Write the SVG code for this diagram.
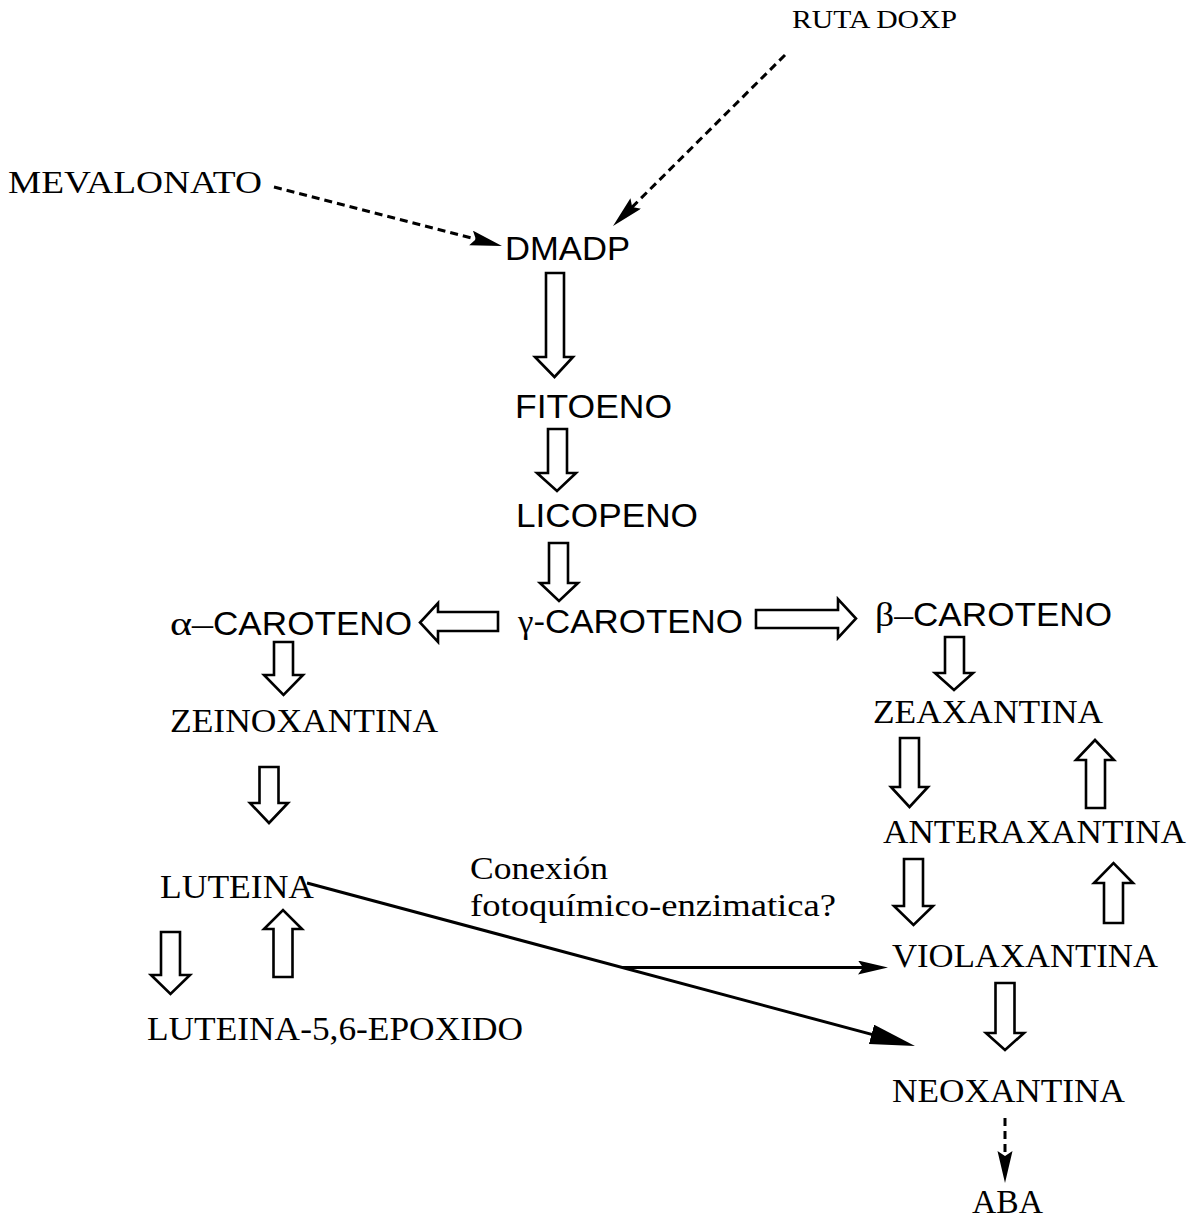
<svg xmlns="http://www.w3.org/2000/svg" width="1194" height="1220" viewBox="0 0 1194 1220">
<style>
.serif{font-family:"Liberation Serif","Times New Roman",serif;fill:#000}
.sans{font-family:"Liberation Sans",Arial,sans-serif;fill:#000}
.lbl{font-size:34px}
.slbl{font-size:33px}
.block{fill:#fff;stroke:#000;stroke-width:2.6;stroke-linejoin:miter}
.solid{fill:none;stroke:#000;stroke-width:3}
.dash{fill:none;stroke:#000;stroke-width:3;stroke-dasharray:8 5}
</style>
<defs>
<marker id="bigHead" markerUnits="userSpaceOnUse" markerWidth="46" markerHeight="22" refX="35" refY="10" orient="auto">
<path d="M0,0 L45,10 L0,20 Z" fill="#000"/>
</marker>
<marker id="smallHead" markerUnits="userSpaceOnUse" markerWidth="32" markerHeight="16" refX="20" refY="7" orient="auto">
<path d="M0,0 L30,7 L0,14 L5,7 Z" fill="#000"/>
</marker>
<marker id="dashHead" markerUnits="userSpaceOnUse" markerWidth="34" markerHeight="16" refX="14" refY="7.5" orient="auto">
<path d="M0,0 L32,7.5 L0,15 L5,7.5 Z" fill="#000"/>
</marker>
</defs>
<rect width="1194" height="1220" fill="#fff"/>

<g id="connectors">
<line class="dash" x1="274" y1="187" x2="484.6" y2="241.4" marker-end="url(#dashHead)"/>
<line class="dash" x1="785" y1="55" x2="625.8" y2="213.4" marker-end="url(#dashHead)"/>
<line class="dash" x1="1005" y1="1118" x2="1005" y2="1165" marker-end="url(#dashHead)"/>
<line class="solid" x1="307" y1="883" x2="905.3" y2="1043.4" marker-end="url(#bigHead)"/>
<line class="solid" x1="622" y1="967.5" x2="878" y2="967.5" marker-end="url(#smallHead)"/>
<path id="a-dmadp-fitoeno" class="block" d="M546,273 H564 V357 H573 L554.5,377 L535,357 H546 Z"/>
<path id="a-fitoeno-licopeno" class="block" d="M548,429 H567 V473 H576 L557,491 L537,473 H548 Z"/>
<path id="a-licopeno-gamma" class="block" d="M549,543 H568 V583 H578 L559,601 L540,583 H549 Z"/>
<path id="a-gamma-alpha" class="block" d="M498,612 V631 H438 V642 L420,622.5 L438,603 V612 Z"/>
<path id="a-gamma-beta" class="block" d="M756,610 H838 V599 L856,618.5 L838,638 V628 H756 Z"/>
<path id="a-alpha-zein" class="block" d="M274,642 H293 V675 H303 L283.5,695 L264,675 H274 Z"/>
<path id="a-zein-lut" class="block" d="M259.5,767 H278.5 V803 H288 L269,823 L250,803 H259.5 Z"/>
<path id="a-lut-epox" class="block" d="M161,932 H180 V975 H190 L170.5,994 L151,975 H161 Z"/>
<path id="a-epox-lut" class="block" d="M273.5,977 H292.5 V929 H302 L283,910 L264,929 H273.5 Z"/>
<path id="a-beta-zeax" class="block" d="M945,637 H964 V673 H973 L954,690 L935,673 H945 Z"/>
<path id="a-zeax-anter" class="block" d="M900,738 H919 V787 H928 L909.5,807 L891,787 H900 Z"/>
<path id="a-anter-zeax" class="block" d="M1086,808 H1105 V760 H1114 L1095,740 L1076,760 H1086 Z"/>
<path id="a-anter-viola" class="block" d="M904,859 H923 V906 H933 L913.5,925 L894,906 H904 Z"/>
<path id="a-viola-anter" class="block" d="M1104,923 H1123 V883 H1133 L1113.5,863 L1094,883 H1104 Z"/>
<path id="a-viola-neo" class="block" d="M995.5,983 H1014.5 V1033 H1024 L1005,1050 L986,1033 H995.5 Z"/>
</g>

<g id="n-doxp"><text class="serif" font-size="26" x="792" y="28" textLength="165" lengthAdjust="spacingAndGlyphs">RUTA DOXP</text></g>
<g id="n-mevalonato"><text class="serif" font-size="32" x="8" y="193" textLength="254" lengthAdjust="spacingAndGlyphs">MEVALONATO</text></g>
<g id="n-dmadp"><text class="sans slbl" x="505" y="260" textLength="125" lengthAdjust="spacingAndGlyphs">DMADP</text></g>
<g id="n-fitoeno"><text class="sans slbl" x="515" y="418" textLength="157" lengthAdjust="spacingAndGlyphs">FITOENO</text></g>
<g id="n-licopeno"><text class="sans slbl" x="516" y="527" textLength="182" lengthAdjust="spacingAndGlyphs">LICOPENO</text></g>
<g id="n-gamma"><text x="518" y="633" textLength="225" lengthAdjust="spacingAndGlyphs"><tspan class="serif" font-size="33">γ</tspan><tspan class="sans slbl">-CAROTENO</tspan></text></g>
<g id="n-alpha"><text x="170" y="635"><tspan class="serif" font-size="33" textLength="43" lengthAdjust="spacingAndGlyphs">α–</tspan><tspan class="sans slbl" textLength="199" lengthAdjust="spacingAndGlyphs">CAROTENO</tspan></text></g>
<g id="n-beta"><text x="875" y="626"><tspan class="serif" font-size="33" textLength="38" lengthAdjust="spacingAndGlyphs">β–</tspan><tspan class="sans slbl" textLength="199" lengthAdjust="spacingAndGlyphs">CAROTENO</tspan></text></g>
<g id="n-zeinox"><text class="serif lbl" x="170" y="732" textLength="268" lengthAdjust="spacingAndGlyphs">ZEINOXANTINA</text></g>
<g id="n-zeax"><text class="serif lbl" x="873" y="723" textLength="230" lengthAdjust="spacingAndGlyphs">ZEAXANTINA</text></g>
<g id="n-anter"><text class="serif lbl" x="883" y="843" textLength="303" lengthAdjust="spacingAndGlyphs">ANTERAXANTINA</text></g>
<g id="n-viola"><text class="serif lbl" x="892" y="967" textLength="266" lengthAdjust="spacingAndGlyphs">VIOLAXANTINA</text></g>
<g id="n-neo"><text class="serif lbl" x="892" y="1102" textLength="233" lengthAdjust="spacingAndGlyphs">NEOXANTINA</text></g>
<g id="n-aba"><text class="serif lbl" x="972" y="1213" textLength="71" lengthAdjust="spacingAndGlyphs">ABA</text></g>
<g id="n-luteina"><text class="serif lbl" x="160" y="898" textLength="154" lengthAdjust="spacingAndGlyphs">LUTEINA</text></g>
<g id="n-epox"><text class="serif lbl" x="147" y="1040" textLength="376" lengthAdjust="spacingAndGlyphs">LUTEINA-5,6-EPOXIDO</text></g>
<g id="label-conexion">
<text class="serif" font-size="32" x="470" y="879" textLength="138" lengthAdjust="spacingAndGlyphs">Conexión</text>
<text class="serif" font-size="32" x="470" y="916" textLength="366" lengthAdjust="spacingAndGlyphs">fotoquímico-enzimatica?</text>
</g>
</svg>
